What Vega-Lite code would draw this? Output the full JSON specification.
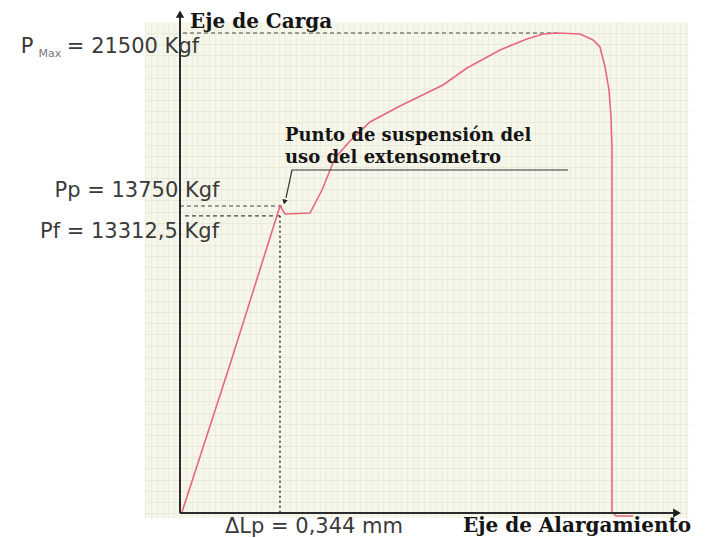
{
  "$schema": "https://vega.github.io/schema/vega-lite/v6.json",
  "width": 543,
  "height": 496,
  "autosize": {"type": "none"},
  "padding": {"left": 145, "top": 22, "right": 23, "bottom": 20},
  "background": "white",
  "config": {"view": {"fill": "#f6f7ea", "stroke": null}},
  "resolve": {"axis": {"x": "independent", "y": "independent"}},
  "layer": [
    {
      "data": {"values": [
        {"x": 0.0103, "x2": 1.2969, "y": 21500},
        {"x": 0, "x2": 0.3543, "y": 13750},
        {"x": 0.0172, "x2": 0.344, "y": 13312.5}
      ]},
      "mark": {"type": "rule", "color": "#444444", "strokeWidth": 1.2, "strokeDash": [4, 3]},
      "encoding": {
        "x": {"field": "x", "type": "quantitative", "scale": {"domain": [-0.1204, 1.7475], "nice": false, "zero": false},
          "axis": {"orient": "top", "grid": true, "tickCount": 18, "gridColor": "#d2d6bc", "gridWidth": 1, "labels": false, "ticks": false, "domain": false, "title": null}},
        "x2": {"field": "x2"},
        "y": {"field": "y", "type": "quantitative", "scale": {"domain": [-224, 21992], "nice": false, "zero": false},
          "axis": {"orient": "right", "grid": true, "tickCount": 22, "gridColor": "#e2dcbc", "gridWidth": 1, "labels": false, "ticks": false, "domain": false, "title": null}}
      }
    },
    {
      "data": {"values": [
        {"i": 1, "x": 0.0069, "y": 45},
        {"i": 2, "x": 0.172, "y": 6650},
        {"i": 3, "x": 0.344, "y": 13750},
        {"i": 4, "x": 0.3612, "y": 13392},
        {"i": 5, "x": 0.4472, "y": 13437},
        {"i": 6, "x": 0.4885, "y": 14467},
        {"i": 7, "x": 0.5332, "y": 15900},
        {"i": 8, "x": 0.5848, "y": 16662},
        {"i": 9, "x": 0.6536, "y": 17513},
        {"i": 10, "x": 0.7568, "y": 18229},
        {"i": 11, "x": 0.9047, "y": 19170},
        {"i": 12, "x": 0.9873, "y": 19932},
        {"i": 13, "x": 1.1008, "y": 20738},
        {"i": 14, "x": 1.1937, "y": 21231},
        {"i": 15, "x": 1.2487, "y": 21455},
        {"i": 16, "x": 1.2969, "y": 21500},
        {"i": 17, "x": 1.376, "y": 21455},
        {"i": 18, "x": 1.4207, "y": 21186},
        {"i": 19, "x": 1.4448, "y": 20872},
        {"i": 20, "x": 1.462, "y": 19977},
        {"i": 21, "x": 1.4758, "y": 18947},
        {"i": 22, "x": 1.4826, "y": 17738},
        {"i": 23, "x": 1.4861, "y": 16259},
        {"i": 24, "x": 1.4861, "y": 45},
        {"i": 25, "x": 1.4998, "y": -134},
        {"i": 26, "x": 1.5583, "y": -134}
      ]},
      "mark": {"type": "line", "color": "#e8677c", "strokeWidth": 1.6},
      "encoding": {
        "order": {"field": "i", "type": "quantitative"},
        "x": {"field": "x", "type": "quantitative", "scale": {"domain": [-0.1204, 1.7475], "nice": false, "zero": false},
          "axis": {"orient": "bottom", "grid": true, "tickCount": 90, "gridColor": "#eceee0", "gridWidth": 1, "labels": false, "ticks": false, "domain": false, "title": null}},
        "y": {"field": "y", "type": "quantitative", "scale": {"domain": [-224, 21992], "nice": false, "zero": false},
          "axis": {"orient": "left", "grid": true, "tickCount": 45, "gridColor": "#e8ead8", "gridWidth": 1, "labels": false, "ticks": false, "domain": false, "title": null}}
      }
    },
    {
      "data": {"values": [{"x": 0.344, "y": 13312.5, "y2": 0}]},
      "mark": {"type": "rule", "color": "#333333", "strokeWidth": 1.5, "strokeDash": [2, 3]},
      "encoding": {
        "x": {"field": "x", "type": "quantitative", "scale": {"domain": [-0.1204, 1.7475], "nice": false, "zero": false}, "axis": null},
        "y": {"field": "y", "type": "quantitative", "scale": {"domain": [-224, 21992], "nice": false, "zero": false}, "axis": null},
        "y2": {"field": "y2"}
      }
    },
    {
      "data": {"values": [
        {"x": 0, "x2": 0, "y": 0, "y2": 22350},
        {"x": 0, "x2": 1.7097, "y": 0, "y2": 0}
      ]},
      "mark": {"type": "rule", "color": "#2b2b2b", "strokeWidth": 2},
      "encoding": {
        "x": {"field": "x", "type": "quantitative", "scale": {"domain": [-0.1204, 1.7475], "nice": false, "zero": false}, "axis": null},
        "x2": {"field": "x2"},
        "y": {"field": "y", "type": "quantitative", "scale": {"domain": [-224, 21992], "nice": false, "zero": false}, "axis": null},
        "y2": {"field": "y2"}
      }
    },
    {
      "data": {"values": [{"x": 0, "y": 22350}]},
      "mark": {"type": "point", "shape": "triangle-up", "filled": true, "size": 70, "color": "#1e1e1e", "opacity": 1},
      "encoding": {
        "x": {"field": "x", "type": "quantitative", "scale": {"domain": [-0.1204, 1.7475], "nice": false, "zero": false}, "axis": null},
        "y": {"field": "y", "type": "quantitative", "scale": {"domain": [-224, 21992], "nice": false, "zero": false}, "axis": null}
      }
    },
    {
      "data": {"values": [{"x": 1.7097, "y": 0}]},
      "mark": {"type": "point", "shape": "triangle-right", "filled": true, "size": 80, "color": "#1e1e1e", "opacity": 1},
      "encoding": {
        "x": {"field": "x", "type": "quantitative", "scale": {"domain": [-0.1204, 1.7475], "nice": false, "zero": false}, "axis": null},
        "y": {"field": "y", "type": "quantitative", "scale": {"domain": [-224, 21992], "nice": false, "zero": false}, "axis": null}
      }
    },
    {
      "data": {"values": [
        {"i": 1, "x": 1.3347, "y": 15363},
        {"i": 2, "x": 0.3853, "y": 15363},
        {"i": 3, "x": 0.3646, "y": 14109}
      ]},
      "mark": {"type": "line", "color": "#333333", "strokeWidth": 1.2},
      "encoding": {
        "order": {"field": "i", "type": "quantitative"},
        "x": {"field": "x", "type": "quantitative", "scale": {"domain": [-0.1204, 1.7475], "nice": false, "zero": false}, "axis": null},
        "y": {"field": "y", "type": "quantitative", "scale": {"domain": [-224, 21992], "nice": false, "zero": false}, "axis": null}
      }
    },
    {
      "data": {"values": [{"x": 0.3595, "y": 13930}]},
      "mark": {"type": "point", "shape": "triangle-down", "filled": true, "size": 30, "angle": 14, "color": "#222222", "opacity": 1},
      "encoding": {
        "x": {"field": "x", "type": "quantitative", "scale": {"domain": [-0.1204, 1.7475], "nice": false, "zero": false}, "axis": null},
        "y": {"field": "y", "type": "quantitative", "scale": {"domain": [-224, 21992], "nice": false, "zero": false}, "axis": null}
      }
    },
    {
      "data": {"values": [
        {"t": "Pp = 13750 Kgf", "x": -0.1479, "y": 14154},
        {"t": "Pf = 13312,5 Kgf", "x": -0.1737, "y": 12317},
        {"t": "ΔLp = 0,344 mm", "x": 0.461, "y": -896},
        {"t": "P", "x": -0.5263, "y": 20603},
        {"t": "= 21500 Kgf", "x": -0.1617, "y": 20603}
      ]},
      "mark": {"type": "text", "font": "DejaVu Sans", "fontSize": 21, "color": "#3a3a3a", "align": "center", "baseline": "alphabetic"},
      "encoding": {
        "text": {"field": "t"},
        "x": {"field": "x", "type": "quantitative", "scale": {"domain": [-0.1204, 1.7475], "nice": false, "zero": false}, "axis": null},
        "y": {"field": "y", "type": "quantitative", "scale": {"domain": [-224, 21992], "nice": false, "zero": false}, "axis": null}
      }
    },
    {
      "data": {"values": [{"t": "Max", "x": -0.4472, "y": 20424}]},
      "mark": {"type": "text", "font": "DejaVu Sans", "fontSize": 11, "color": "#7a7a7a", "align": "center", "baseline": "alphabetic"},
      "encoding": {
        "text": {"field": "t"},
        "x": {"field": "x", "type": "quantitative", "scale": {"domain": [-0.1204, 1.7475], "nice": false, "zero": false}, "axis": null},
        "y": {"field": "y", "type": "quantitative", "scale": {"domain": [-224, 21992], "nice": false, "zero": false}, "axis": null}
      }
    },
    {
      "data": {"values": [
        {"t": "Eje de Carga", "x": 0.0344, "y": 21723},
        {"t": "Eje de Alargamiento", "x": 0.9735, "y": -851}
      ]},
      "mark": {"type": "text", "font": "DejaVu Serif", "fontWeight": "bold", "fontSize": 20, "color": "#151515", "align": "left", "baseline": "alphabetic"},
      "encoding": {
        "text": {"field": "t"},
        "x": {"field": "x", "type": "quantitative", "scale": {"domain": [-0.1204, 1.7475], "nice": false, "zero": false}, "axis": null},
        "y": {"field": "y", "type": "quantitative", "scale": {"domain": [-224, 21992], "nice": false, "zero": false}, "axis": null}
      }
    },
    {
      "data": {"values": [
        {"t": "Punto de suspensión del", "x": 0.3612, "y": 16662},
        {"t": "uso del extensometro", "x": 0.3612, "y": 15677}
      ]},
      "mark": {"type": "text", "font": "DejaVu Serif", "fontWeight": "bold", "fontSize": 18, "color": "#151515", "align": "left", "baseline": "alphabetic"},
      "encoding": {
        "text": {"field": "t"},
        "x": {"field": "x", "type": "quantitative", "scale": {"domain": [-0.1204, 1.7475], "nice": false, "zero": false}, "axis": null},
        "y": {"field": "y", "type": "quantitative", "scale": {"domain": [-224, 21992], "nice": false, "zero": false}, "axis": null}
      }
    }
  ]
}
